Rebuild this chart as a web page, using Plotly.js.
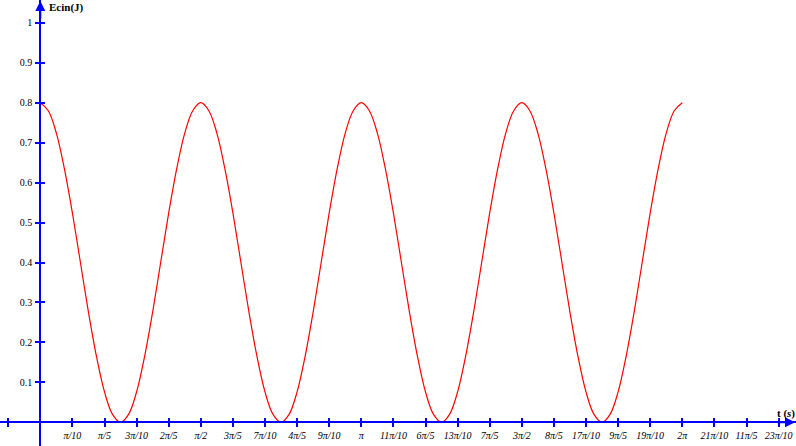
<!DOCTYPE html>
<html><head><meta charset="utf-8">
<script src="https://cdn.plot.ly/plotly-3.0.1.min.js"></script>
<style>html,body{margin:0;padding:0;background:#fff}#chart{width:796px;height:446px}</style>
</head><body><div id="chart"></div>
<script>
// samples every π/40 seconds, from t = 0 to t = 2π
const sampleStepPi = 1 / 40;
const energyJ = [
  0.800,0.780,0.724,0.635,0.524,0.400,0.276,0.165,0.076,0.020,0.000,0.020,0.076,0.165,0.276,0.400,0.524,0.635,0.724,0.780,
  0.800,0.780,0.724,0.635,0.524,0.400,0.276,0.165,0.076,0.020,0.000,0.020,0.076,0.165,0.276,0.400,0.524,0.635,0.724,0.780,
  0.800,0.780,0.724,0.635,0.524,0.400,0.276,0.165,0.076,0.020,0.000,0.020,0.076,0.165,0.276,0.400,0.524,0.635,0.724,0.780,
  0.800,0.780,0.724,0.635,0.524,0.400,0.276,0.165,0.076,0.020,0.000,0.020,0.076,0.165,0.276,0.400,0.524,0.635,0.724,0.780,
  0.800
];
const xTickMultiplesOfPiOver10 = [-1,0,1,2,3,4,5,6,7,8,9,10,11,12,13,14,15,16,17,18,19,20,21,22,23];
const xTickLabels = ['', '', 'π/10', 'π/5', '3π/10', '2π/5', 'π/2', '3π/5', '7π/10', '4π/5', '9π/10', 'π',
  '11π/10', '6π/5', '13π/10', '7π/5', '3π/2', '8π/5', '17π/10', '9π/5', '19π/10', '2π', '21π/10', '11π/5', '23π/10'];
const yTickVals = [0.1,0.2,0.3,0.4,0.5,0.6,0.7,0.8,0.9,1];
const yTickLabels = ['0.1','0.2','0.3','0.4','0.5','0.6','0.7','0.8','0.9','1'];

const tVals = energyJ.map((_, i) => i * sampleStepPi * Math.PI);
const xTickVals = xTickMultiplesOfPiOver10.map(k => k * Math.PI / 10);

const W = 796, H = 446;
const BLUE = '#0000ff';
const serif = 'Liberation Serif, Times New Roman, serif';

const xRange = [-0.3944, 7.396];
const yRange = [-0.0593, 1.0571];
const xPos = (0 - yRange[0]) / (yRange[1] - yRange[0]);
const yPos = (0 - xRange[0]) / (xRange[1] - xRange[0]);

const traces = [
  {x: tVals, y: energyJ, type: 'scatter', mode: 'lines', line: {color: '#ff0000', width: 1.2, shape: 'spline'}, hoverinfo: 'skip'},
  {x: [], y: [], xaxis: 'x2', yaxis: 'y2', type: 'scatter', mode: 'lines', hoverinfo: 'skip'}
];

const axCommon = {showgrid: false, zeroline: false, tickcolor: BLUE, tickwidth: 2, ticklen: 4, fixedrange: true};

const layout = {
  width: W, height: H,
  margin: {l: 0, r: 0, t: 0, b: 0, pad: 0},
  paper_bgcolor: '#ffffff', plot_bgcolor: '#ffffff',
  showlegend: false,
  font: {family: serif, color: '#000'},
  xaxis: Object.assign({}, axCommon, {
    range: xRange, domain: [0, 1], anchor: 'free', position: xPos,
    showline: true, linecolor: BLUE, linewidth: 2, ticks: 'outside',
    tickmode: 'array', tickvals: xTickVals, ticktext: xTickLabels,
    tickfont: {family: serif, size: 10, color: '#000', style: 'italic'}
  }),
  xaxis2: Object.assign({}, axCommon, {
    range: xRange, matches: 'x', overlaying: 'x', side: 'top', anchor: 'free', position: xPos,
    showline: false, ticks: 'outside', tickmode: 'array', tickvals: xTickVals, showticklabels: false
  }),
  yaxis: Object.assign({}, axCommon, {
    range: yRange, domain: [0, 1], anchor: 'free', position: yPos,
    showline: true, linecolor: BLUE, linewidth: 2, ticks: 'outside',
    tickmode: 'array', tickvals: yTickVals, ticktext: yTickLabels, ticklabelstandoff: 1,
    tickfont: {family: serif, size: 10, color: '#000'}
  }),
  yaxis2: Object.assign({}, axCommon, {
    range: yRange, matches: 'y', overlaying: 'y', side: 'right', anchor: 'free', position: yPos,
    showline: false, ticks: 'outside', tickmode: 'array', tickvals: yTickVals, showticklabels: false
  }),
  annotations: [
    {x: 0, xref: 'x', y: 1, yref: 'paper', ax: 0, ay: 20, showarrow: true, arrowhead: 2, arrowsize: 1, arrowwidth: 2, arrowcolor: BLUE, text: ''},
    {x: 1, xref: 'paper', y: 0, yref: 'y', ax: -20, ay: 0, showarrow: true, arrowhead: 2, arrowsize: 1, arrowwidth: 2, arrowcolor: BLUE, text: ''},
    {x: 47 / W, xref: 'paper', y: 1 - 7 / H, yref: 'paper', xanchor: 'left', yanchor: 'middle', showarrow: false,
     text: '<b>Ecin(J)</b>', font: {family: serif, size: 11, color: '#000'}},
    {x: 775 / W, xref: 'paper', y: 1 - 413 / H, yref: 'paper', xanchor: 'left', yanchor: 'middle', showarrow: false,
     text: '<b>t (<i>s</i>)</b>', font: {family: serif, size: 11, color: '#000'}}
  ]
};

Plotly.newPlot('chart', traces, layout, {staticPlot: true, displayModeBar: false});
</script>
</body></html>
